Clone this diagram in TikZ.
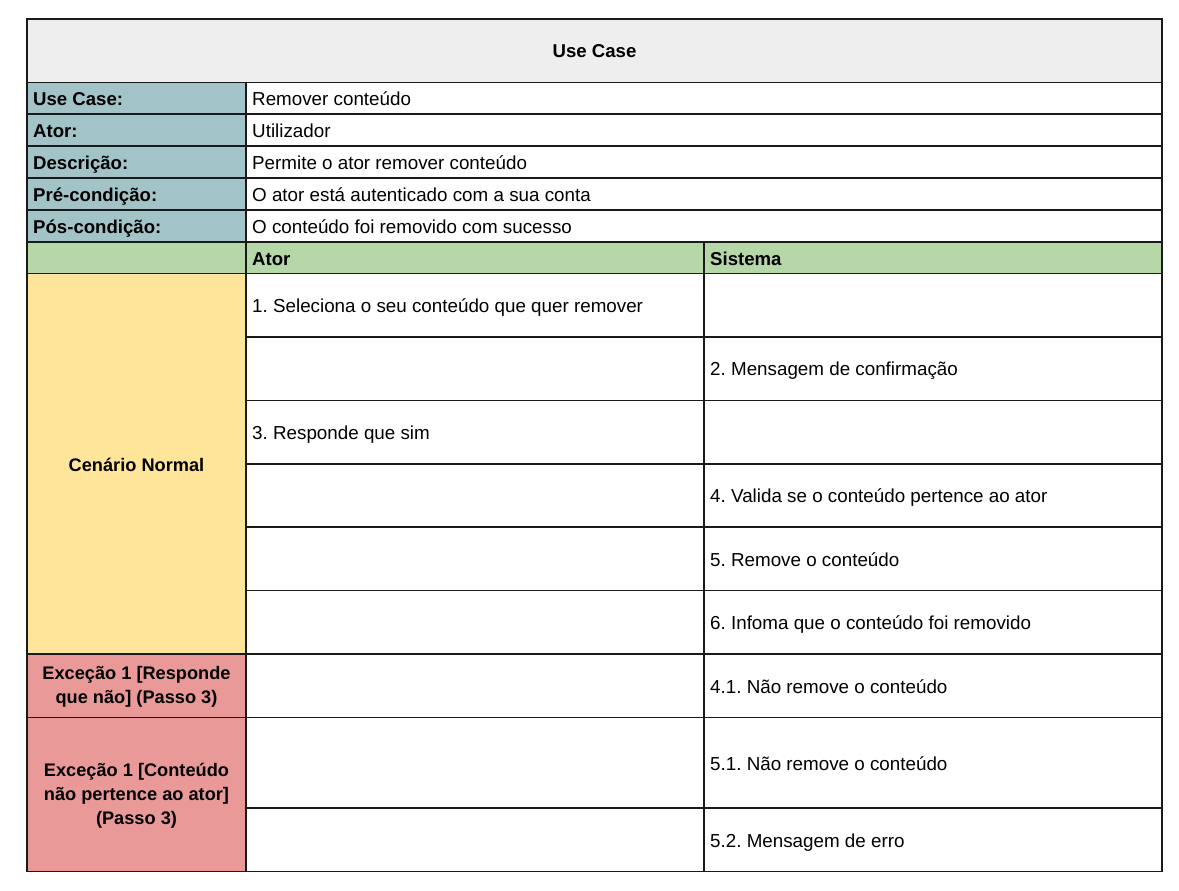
\documentclass[tikz,border=0pt]{standalone}
\usepackage{fontspec}
\setmainfont{Liberation Sans}
\frenchspacing
\definecolor{titlegray}{HTML}{EEEEEE}
\definecolor{labelblue}{HTML}{A2C4C9}
\definecolor{hdrgreen}{HTML}{B6D7A8}
\definecolor{normyellow}{HTML}{FFE599}
\definecolor{excred}{HTML}{EA9999}
\definecolor{gridline}{HTML}{1A1A1A}
\begin{document}
\begin{tikzpicture}[x=1pt,y=-1pt,
  grid/.style={draw=gridline,line width=1.3pt},
  txt/.style={anchor=base west,inner sep=0pt,font=\fontsize{18.8}{22}\selectfont},
  btxt/.style={txt,font=\fontsize{18.6}{22}\selectfont\bfseries},
  ctxt/.style={inner sep=0pt,align=center,font=\fontsize{18.2}{24}\selectfont\bfseries}]
\useasboundingbox[fill=white] (0,0) rectangle (1179,891);
% fills
\fill[titlegray] (27,19) rectangle (1162,82.5);
\fill[labelblue] (27,82.5) rectangle (246,242);
\fill[hdrgreen] (27,242) rectangle (1162,273.5);
\fill[normyellow] (27,273.5) rectangle (246,654);
\fill[excred] (27,654) rectangle (246,871.5);
% grid
\draw[grid] (27,19) rectangle (1162,871.5);
\foreach \y in {82.5,114,146,178,210,242,273.5,654,717.5}
  \draw[grid] (27,\y) -- (1162,\y);
\foreach \y in {337,400.5,464,527,590.5,808}
  \draw[grid] (246,\y) -- (1162,\y);
\draw[grid] (246,82.5) -- (246,871.5);
\draw[grid] (704,242) -- (704,871.5);
% title
\node[btxt,anchor=base] (title) at (594.5,57.5) {Use Case};
% label rows
\node[btxt] (luc) at (33,105.5) {Use Case:};
\node[txt] (vuc) at (252,105.5) {Remover conteúdo};
\node[btxt] (lat) at (33,137) {Ator:};
\node[txt] (vat) at (252,137) {Utilizador};
\node[btxt] (lde) at (33,169) {Descrição:};
\node[txt] (vde) at (252,169) {Permite o ator remover conteúdo};
\node[btxt] (lpre) at (33,201) {Pré-condição:};
\node[txt] (vpre) at (252,201) {O ator está autenticado com a sua conta};
\node[btxt] (lpos) at (33,233) {Pós-condição:};
\node[txt] (vpos) at (252,233) {O conteúdo foi removido com sucesso};
% header
\node[btxt] (hator) at (252,265) {Ator};
\node[btxt] (hsis) at (710,265) {Sistema};
% normal scenario
\node[ctxt] (normal) at (136.5,465) {Cenário Normal};
\node[txt] (s1) at (252,312) {1. Seleciona o seu conteúdo que quer remover};
\node[txt] (s2) at (710,375.5) {2. Mensagem de confirmação};
\node[txt] (s3) at (252,439) {3. Responde que sim};
\node[txt] (s4) at (710,502.5) {4. Valida se o conteúdo pertence ao ator};
\node[txt] (s5) at (710,566) {5. Remove o conteúdo};
\node[txt] (s6) at (710,629.5) {6. Infoma que o conteúdo foi removido};
% exceptions
\node[ctxt] (exc1) at (136.5,687) {Exceção 1 [Responde\\que não] (Passo 3)};
\node[txt] (s41) at (710,693) {4.1. Não remove o conteúdo};
\node[ctxt] (exc2) at (136.5,796) {Exceção 1 [Conteúdo\\não pertence ao ator]\\(Passo 3)};
\node[txt] (s51) at (710,770) {5.1. Não remove o conteúdo};
\node[txt] (s52) at (710,847) {5.2. Mensagem de erro};
\end{tikzpicture}
\end{document}
